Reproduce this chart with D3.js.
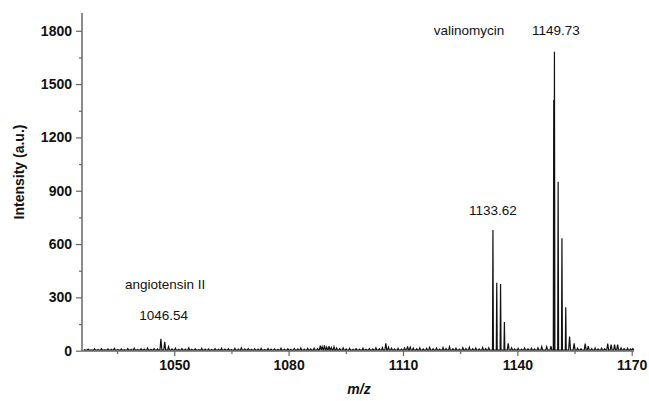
<!DOCTYPE html>
<html>
<head>
<meta charset="utf-8">
<script src="https://cdn.jsdelivr.net/npm/d3@7"></script>
<style>
  body { margin: 0; background: #fff; }
  text { font-family: Arial, "Liberation Sans", sans-serif; fill: #111; }
</style>
</head>
<body>
<div id="spectrum"></div>
<script>
// main peaks [m/z, intensity]
var angiotensinPeaks = [[1046.5, 67], [1047.5, 50], [1048.5, 22]];
var peaks1133 = [[1133.6, 679], [1134.6, 382], [1135.6, 375], [1136.6, 161], [1137.6, 42]];
var valinomycinPeaks = [[1149.55, 1410], [1149.73, 1682], [1150.7, 951], [1151.7, 632], [1152.7, 244], [1153.7, 79]];

// baseline noise [m/z, intensity]
var noise = [
  [1026.5, 6], [1027.4, 9], [1028.3, 5], [1029.1, 11], [1030.0, 7], [1030.9, 12], [1031.7, 6], [1032.6, 10],
  [1033.5, 8], [1034.3, 13], [1035.2, 7], [1036.1, 10], [1036.9, 6], [1037.8, 12], [1038.7, 8], [1039.5, 14],
  [1040.4, 7], [1041.3, 11], [1042.1, 9], [1043.0, 15], [1043.9, 8], [1044.7, 12], [1045.6, 10], [1049.4, 10],
  [1050.3, 14], [1051.2, 8], [1052.0, 12], [1052.9, 9], [1053.8, 16], [1054.6, 8], [1055.5, 11], [1056.4, 7],
  [1057.2, 13], [1058.1, 9], [1059.0, 10], [1059.8, 7], [1060.7, 12], [1061.6, 8], [1062.4, 14], [1063.3, 9],
  [1064.2, 11], [1065.0, 7], [1065.9, 13], [1066.8, 9], [1067.6, 16], [1068.5, 10], [1069.4, 12], [1070.2, 8],
  [1071.1, 11], [1072.0, 9], [1072.8, 13], [1073.7, 7], [1074.6, 12], [1075.4, 9], [1076.3, 10], [1077.2, 8],
  [1078.0, 14], [1078.9, 9], [1079.8, 11], [1080.6, 8], [1081.5, 12], [1082.4, 10], [1083.2, 15], [1084.1, 9],
  [1085.0, 13], [1085.8, 10], [1086.7, 14], [1087.6, 12], [1088.3, 28], [1088.8, 22], [1089.4, 30], [1090.0, 20],
  [1090.6, 25], [1091.2, 18], [1091.9, 22], [1092.6, 15], [1093.4, 12], [1094.3, 16], [1095.1, 10], [1096.0, 13],
  [1096.9, 8], [1097.7, 12], [1098.6, 9], [1099.5, 14], [1100.3, 8], [1101.2, 12], [1102.1, 10], [1102.9, 16],
  [1103.8, 11], [1104.6, 18], [1105.5, 42], [1106.2, 20], [1107.0, 14], [1107.8, 10], [1108.7, 13], [1109.6, 9],
  [1110.4, 15], [1111.2, 24], [1111.9, 20], [1112.7, 14], [1113.6, 11], [1114.4, 16], [1115.3, 10], [1116.2, 13],
  [1117.0, 19], [1117.9, 11], [1118.8, 15], [1119.6, 9], [1120.5, 18], [1121.3, 12], [1122.2, 22], [1123.1, 11],
  [1123.9, 14], [1124.8, 9], [1125.7, 17], [1126.5, 12], [1127.4, 20], [1128.3, 11], [1129.1, 15], [1130.0, 10],
  [1130.9, 18], [1131.7, 12], [1132.5, 16], [1138.5, 16], [1139.3, 10], [1140.2, 13], [1141.1, 9], [1141.9, 15],
  [1142.8, 11], [1143.7, 14], [1144.5, 10], [1145.4, 16], [1146.4, 22], [1147.7, 22], [1148.8, 25], [1154.9, 42],
  [1155.8, 14], [1156.7, 11], [1157.8, 40], [1158.6, 25], [1159.5, 12], [1160.4, 15], [1161.2, 10], [1162.1, 14],
  [1162.9, 11], [1163.7, 40], [1164.6, 35], [1165.5, 35], [1166.3, 35], [1167.2, 16], [1168.0, 12], [1168.9, 14],
  [1169.7, 10], [1170.3, 12]
];

var xMajorTicks = [1050, 1080, 1110, 1140, 1170];
var xMinorTicks = [1035, 1065, 1095, 1125, 1155];
var yMajorTicks = [0, 300, 600, 900, 1200, 1500, 1800];
var yMinorTicks = [150, 450, 750, 1050, 1350, 1650];

var labels = [
  {text: "valinomycin", mz: 1127.3, y: 1776, anchor: "middle"},
  {text: "1149.73", mz: 1150.1, y: 1776, anchor: "middle"},
  {text: "1133.62", mz: 1133.6, y: 763, anchor: "middle"},
  {text: "angiotensin II", mz: 1037.1, y: 347, anchor: "start"},
  {text: "1046.54", mz: 1047.2, y: 173, anchor: "middle"}
];

var width = 649,
    height = 401;

var svg = d3.select("#spectrum")
  .append("svg")
    .attr("width", width)
    .attr("height", height);

var x = d3.scaleLinear()
  .domain([1025.8, 1170.6])
  .range([82, 634]);

var y = d3.scaleLinear()
  .domain([0, 1900])
  .range([350.7, 13]);

// build the spectrum trace: each point becomes a narrow spike off the baseline
var allPoints = noise.concat(angiotensinPeaks, peaks1133, valinomycinPeaks)
  .map(function(d) { return {mz: d[0], v: d[1], big: d[1] > 100}; })
  .sort(function(a, b) { return a.mz - b.mz; });

var trace = [];
allPoints.forEach(function(d) {
  var half = d.big ? 0.12 : 0.25;
  trace.push([d.mz - half, 3]);
  trace.push([d.mz, d.v]);
  trace.push([d.mz + half, 3]);
});

var line = d3.line()
  .x(function(d) { return x(d[0]); })
  .y(function(d) { return y(d[1]); });

svg.append("path")
  .datum(trace)
  .attr("d", line)
  .attr("fill", "none")
  .attr("stroke", "#111")
  .attr("stroke-width", 1.2);

// axes
var axisColor = "#666";

var xAxis = d3.axisBottom(x).tickValues(xMajorTicks).tickSize(5).tickPadding(4).tickFormat(d3.format("d"));
var xMinor = d3.axisBottom(x).tickValues(xMinorTicks).tickSize(3).tickFormat("");
var yAxis = d3.axisLeft(y).tickValues(yMajorTicks).tickSize(6).tickPadding(4).tickFormat(d3.format("d"));
var yMinor = d3.axisLeft(y).tickValues(yMinorTicks).tickSize(3).tickFormat("");

function styleAxis(g) {
  g.select(".domain").remove();
  g.selectAll("line").attr("stroke", axisColor).attr("stroke-width", 1.2);
  g.selectAll("text")
    .attr("font-size", 14)
    .attr("font-weight", "bold")
    .attr("font-family", "Arial, 'Liberation Sans', sans-serif")
    .attr("fill", "#111");
}

svg.append("g").attr("transform", "translate(0,351)").call(xAxis).call(styleAxis);
svg.append("g").attr("transform", "translate(0,351)").call(xMinor).call(styleAxis);
svg.append("g").attr("transform", "translate(82,0)").call(yAxis).call(styleAxis);
svg.append("g").attr("transform", "translate(82,0)").call(yMinor).call(styleAxis);

// axis lines
svg.append("line")
  .attr("x1", 82).attr("x2", 82)
  .attr("y1", y(1900)).attr("y2", 351)
  .attr("stroke", axisColor).attr("stroke-width", 1.5);
svg.append("line")
  .attr("x1", 82).attr("x2", x(1170.6))
  .attr("y1", 351).attr("y2", 351)
  .attr("stroke", axisColor).attr("stroke-width", 1.5);

// axis titles
svg.append("text")
  .attr("transform", "translate(24,172) rotate(-90)")
  .attr("text-anchor", "middle")
  .attr("font-size", 14)
  .attr("font-weight", "bold")
  .text("Intensity (a.u.)");

svg.append("text")
  .attr("x", 359)
  .attr("y", 394)
  .attr("text-anchor", "middle")
  .attr("font-size", 14)
  .attr("font-weight", "bold")
  .attr("font-style", "italic")
  .text("m/z");

// peak annotations
svg.selectAll(".peak-label")
  .data(labels)
  .enter()
  .append("text")
    .attr("class", "peak-label")
    .attr("x", function(d) { return x(d.mz); })
    .attr("y", function(d) { return y(d.y); })
    .attr("text-anchor", function(d) { return d.anchor; })
    .attr("font-size", 13.5)
    .text(function(d) { return d.text; });
</script>
</body>
</html>
